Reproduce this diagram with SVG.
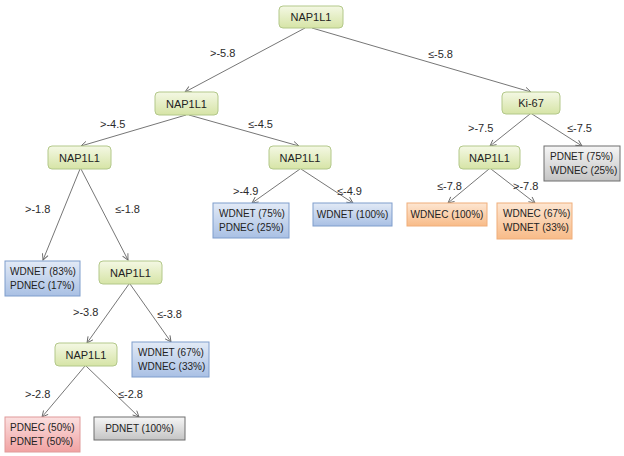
<svg xmlns="http://www.w3.org/2000/svg" width="624" height="456" viewBox="0 0 624 456">
<defs>
<linearGradient id="gG" x1="0" y1="0" x2="0" y2="1"><stop offset="0" stop-color="#f4f8e4"/><stop offset="1" stop-color="#d6e4a6"/></linearGradient>
<linearGradient id="gB" x1="0" y1="0" x2="0" y2="1"><stop offset="0" stop-color="#e2eaf6"/><stop offset="1" stop-color="#a9c0e4"/></linearGradient>
<linearGradient id="gO" x1="0" y1="0" x2="0" y2="1"><stop offset="0" stop-color="#fde6d2"/><stop offset="1" stop-color="#f8bb88"/></linearGradient>
<linearGradient id="gR" x1="0" y1="0" x2="0" y2="1"><stop offset="0" stop-color="#fbe0e0"/><stop offset="1" stop-color="#f1a2a2"/></linearGradient>
<linearGradient id="gY" x1="0" y1="0" x2="0" y2="1"><stop offset="0" stop-color="#f6f6f6"/><stop offset="1" stop-color="#c4c4c4"/></linearGradient>
<marker id="ah" markerWidth="8" markerHeight="8" refX="7" refY="4" orient="auto" markerUnits="userSpaceOnUse"><path d="M1,1 L7,4 L1,7" fill="none" stroke="#666" stroke-width="0.9"/></marker>
</defs>
<style>
text{font-family:"Liberation Sans",Arial,sans-serif;fill:#222}
.n{font-size:11px}
.b{font-size:10px}
.l{font-size:11px;fill:#2a2a2a}
.g{fill:url(#gG);stroke:#b3c88a;stroke-width:1}
.bl{fill:url(#gB);stroke:#7f9dcc;stroke-width:1}
.o{fill:url(#gO);stroke:#f0ae7a;stroke-width:1}
.r{fill:url(#gR);stroke:#e09a9a;stroke-width:1}
.y{fill:url(#gY);stroke:#6e6e6e;stroke-width:1}
.e{stroke:#666;stroke-width:0.9;fill:none;marker-end:url(#ah)}
</style>
<rect width="624" height="456" fill="#ffffff"/>
<g id="connectors">
<line class="e" x1="305" y1="28" x2="185" y2="92"/>
<line class="e" x1="312" y1="28" x2="531" y2="92"/>
<line class="e" x1="186" y1="115" x2="81" y2="146"/>
<line class="e" x1="189" y1="115" x2="299" y2="146"/>
<line class="e" x1="80" y1="169" x2="43" y2="260"/>
<line class="e" x1="81" y1="169" x2="128" y2="260"/>
<line class="e" x1="129" y1="284" x2="87" y2="343"/>
<line class="e" x1="130" y1="284" x2="171" y2="342"/>
<line class="e" x1="85" y1="366" x2="42" y2="417"/>
<line class="e" x1="86" y1="366" x2="139" y2="417"/>
<line class="e" x1="300" y1="169" x2="252" y2="203"/>
<line class="e" x1="301" y1="169" x2="353" y2="203"/>
<line class="e" x1="530" y1="114" x2="490" y2="146"/>
<line class="e" x1="532" y1="114" x2="582" y2="146"/>
<line class="e" x1="489" y1="169" x2="448" y2="203"/>
<line class="e" x1="491" y1="169" x2="535" y2="203"/>
</g>
<g id="edge-labels">
<text class="l" x="210" y="57">&gt;-5.8</text>
<text class="l" x="428" y="58">≤-5.8</text>
<text class="l" x="100" y="128">&gt;-4.5</text>
<text class="l" x="248" y="128">≤-4.5</text>
<text class="l" x="25" y="213">&gt;-1.8</text>
<text class="l" x="115" y="213">≤-1.8</text>
<text class="l" x="73" y="316">&gt;-3.8</text>
<text class="l" x="157" y="318">≤-3.8</text>
<text class="l" x="25" y="398">&gt;-2.8</text>
<text class="l" x="118" y="398">≤-2.8</text>
<text class="l" x="233" y="195">&gt;-4.9</text>
<text class="l" x="337" y="195">≤-4.9</text>
<text class="l" x="468" y="132">&gt;-7.5</text>
<text class="l" x="567" y="132">≤-7.5</text>
<text class="l" x="437" y="190">≤-7.8</text>
<text class="l" x="513" y="190">&gt;-7.8</text>
</g>
<g id="n-root"><rect class="g" x="279" y="6" width="64" height="22" rx="4"/><text class="n" x="311" y="21" text-anchor="middle">NAP1L1</text></g>
<g id="n-l1"><rect class="g" x="155" y="92" width="63" height="23" rx="4"/><text class="n" x="186.5" y="107.5" text-anchor="middle">NAP1L1</text></g>
<g id="n-ki67"><rect class="g" x="502" y="92" width="58" height="22" rx="4"/><text class="n" x="531" y="107" text-anchor="middle">Ki-67</text></g>
<g id="n-l2a"><rect class="g" x="48" y="146" width="63" height="23" rx="4"/><text class="n" x="79.5" y="161.5" text-anchor="middle">NAP1L1</text></g>
<g id="n-l2b"><rect class="g" x="269" y="146" width="62" height="23" rx="4"/><text class="n" x="300" y="161.5" text-anchor="middle">NAP1L1</text></g>
<g id="n-l2c"><rect class="g" x="459" y="146" width="61" height="23" rx="4"/><text class="n" x="489.5" y="161.5" text-anchor="middle">NAP1L1</text></g>
<g id="n-pdnet75"><rect class="y" x="544" y="146" width="76" height="35"/><text class="b" x="550" y="160">PDNET (75%)</text><text class="b" x="550" y="174">WDNEC (25%)</text></g>
<g id="n-wdnet75"><rect class="bl" x="213" y="203" width="76" height="35"/><text class="b" x="219" y="217">WDNET (75%)</text><text class="b" x="219" y="231">PDNEC (25%)</text></g>
<g id="n-wdnet100"><rect class="bl" x="313" y="203" width="79" height="23"/><text class="b" x="352.5" y="218" text-anchor="middle">WDNET (100%)</text></g>
<g id="n-wdnec100"><rect class="o" x="407" y="203" width="80" height="23"/><text class="b" x="447" y="218" text-anchor="middle">WDNEC (100%)</text></g>
<g id="n-wdnec67"><rect class="o" x="497" y="203" width="75" height="36"/><text class="b" x="503" y="217">WDNEC (67%)</text><text class="b" x="503" y="231">WDNET (33%)</text></g>
<g id="n-wdnet83"><rect class="bl" x="5" y="261" width="75" height="35"/><text class="b" x="10" y="275">WDNET (83%)</text><text class="b" x="10" y="289">PDNEC (17%)</text></g>
<g id="n-l3"><rect class="g" x="99" y="261" width="63" height="23" rx="4"/><text class="n" x="130.5" y="276.5" text-anchor="middle">NAP1L1</text></g>
<g id="n-l4"><rect class="g" x="55" y="343" width="62" height="23" rx="4"/><text class="n" x="86" y="358.5" text-anchor="middle">NAP1L1</text></g>
<g id="n-wdnet67"><rect class="bl" x="132" y="342" width="77" height="35"/><text class="b" x="138" y="356">WDNET (67%)</text><text class="b" x="138" y="370">WDNEC (33%)</text></g>
<g id="n-pdnec50"><rect class="r" x="5" y="417" width="75" height="35"/><text class="b" x="10" y="431">PDNEC (50%)</text><text class="b" x="10" y="445">PDNET (50%)</text></g>
<g id="n-pdnet100"><rect class="y" x="94" y="417" width="91" height="23"/><text class="b" x="139.5" y="432" text-anchor="middle">PDNET (100%)</text></g>
</svg>
